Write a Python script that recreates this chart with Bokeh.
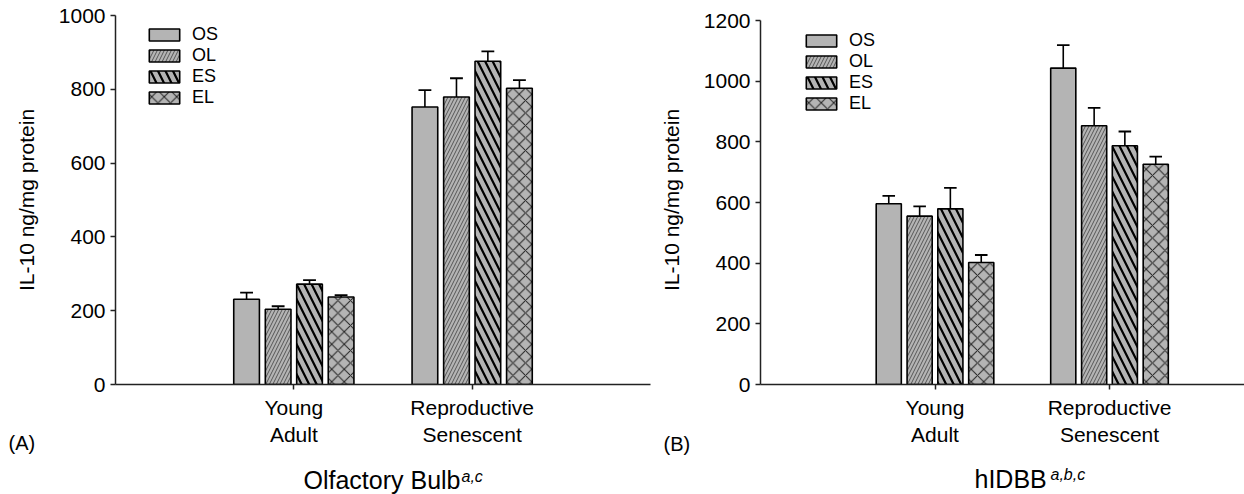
from bokeh.plotting import figure
from bokeh.models import Range1d, FixedTicker, Legend, LegendItem, ColumnDataSource, Title
from bokeh.layouts import row
from bokeh.embed import file_html
from bokeh.resources import INLINE

# ---------------- data ----------------
series = ["OS", "OL", "ES", "EL"]
group_positions = [1, 2]
group_labels = ["Young\nAdult", "Reproductive\nSenescent"]

# Panel A: Olfactory Bulb (IL-10 ng/mg protein)
ob_OS = [231, 752]
ob_OL = [204, 779]
ob_ES = [272, 876]
ob_EL = [237, 803]
ob_OS_err = [18, 46]
ob_OL_err = [8, 51]
ob_ES_err = [11, 27]
ob_EL_err = [5, 22]

# Panel B: hIDBB (IL-10 ng/mg protein)
hd_OS = [596, 1043]
hd_OL = [555, 853]
hd_ES = [579, 787]
hd_EL = [402, 726]
hd_OS_err = [26, 76]
hd_OL_err = [32, 59]
hd_ES_err = [69, 47]
hd_EL_err = [25, 25]

y_ticks_A = [0, 200, 400, 600, 800, 1000]
y_ticks_B = [0, 200, 400, 600, 800, 1000, 1200]

# ---------------- style ----------------
FONT = "Liberation Sans"
BAR_FILL = "#b4b4b4"
offsets = [-0.265, -0.088, 0.088, 0.265]
bar_width = 0.144
hatch = {
    "OS": dict(hatch_pattern=" "),
    "OL": dict(hatch_pattern="/", hatch_scale=7, hatch_weight=1, hatch_color="#555555"),
    "ES": dict(hatch_pattern="\\", hatch_scale=15, hatch_weight=2.2, hatch_color="#000000"),
    "EL": dict(hatch_pattern="x", hatch_scale=12.5, hatch_weight=1, hatch_color="#222222"),
}


def add_title(p, text, size, style, valign, offset, standoff):
    p.add_layout(Title(text=text, align="left", vertical_align=valign, offset=offset, standoff=standoff,
                       text_font=FONT, text_font_size=size, text_font_style=style,
                       text_color="black"), "below")


def make_panel(means, errs, yrange, ybounds, yticks, xmax, width, b_left, b_right,
               legend_loc, texts):
    p = figure(width=width, height=494, output_backend="svg", toolbar_location=None,
               x_range=Range1d(0, xmax), y_range=Range1d(*yrange),
               min_border_left=b_left, min_border_right=b_right,
               min_border_top=15, min_border_bottom=110)
    p.outline_line_color = None
    p.grid.visible = False
    p.background_fill_color = "white"
    p.border_fill_color = "white"

    items = []
    for s, m, e in zip(series, means, errs):
        off = offsets[series.index(s)]
        xs = [g + off for g in group_positions]
        tops = [mi + ei for mi, ei in zip(m, e)]
        src = ColumnDataSource(dict(x=xs, top=m, err_top=tops,
                                    cap_l=[x - 0.036 for x in xs], cap_r=[x + 0.036 for x in xs]))
        p.segment(x0="x", y0="top", x1="x", y1="err_top", source=src, line_color="black", line_width=1.6)
        p.segment(x0="cap_l", y0="err_top", x1="cap_r", y1="err_top", source=src,
                  line_color="black", line_width=1.8)
        r = p.vbar(x="x", top="top", width=bar_width, bottom=0, source=src,
                   fill_color=BAR_FILL, line_color="black", line_width=1.6, **hatch[s])
        items.append(LegendItem(label=s, renderers=[r]))

    leg = Legend(items=items, location=legend_loc, glyph_width=38, glyph_height=15,
                 label_text_font=FONT, label_text_font_size="18px", label_standoff=9,
                 label_text_color="black",
                 spacing=0, padding=0, margin=0, border_line_color=None,
                 background_fill_alpha=0, label_height=20)
    p.add_layout(leg)

    xa = p.xaxis[0]
    xa.ticker = FixedTicker(ticks=group_positions)
    xa.major_label_overrides = {g: l for g, l in zip(group_positions, group_labels)}
    xa.minor_tick_line_color = None
    xa.major_tick_in = 0
    xa.major_tick_out = 5
    xa.major_label_standoff = 6
    xa.major_label_text_font = FONT
    xa.major_label_text_font_size = "21px"
    xa.major_label_text_color = "black"
    xa.axis_line_color = "#222222"
    xa.axis_line_width = 1.5
    xa.major_tick_line_color = "#222222"
    xa.major_tick_line_width = 1.5

    ya = p.yaxis[0]
    ya.bounds = ybounds
    ya.ticker = FixedTicker(ticks=yticks)
    ya.minor_tick_line_color = None
    ya.major_tick_in = 0
    ya.major_tick_out = 5
    ya.major_label_standoff = 5
    ya.major_label_text_font = FONT
    ya.major_label_text_font_size = "21px"
    ya.major_label_text_color = "black"
    ya.axis_line_color = "#222222"
    ya.axis_line_width = 1.5
    ya.major_tick_line_color = "#222222"
    ya.major_tick_line_width = 1.5
    ya.axis_label = "IL-10 ng/mg protein"
    ya.axis_label_text_font = FONT
    ya.axis_label_text_font_size = "21px"
    ya.axis_label_text_font_style = "normal"
    ya.axis_label_text_color = "black"
    ya.axis_label_standoff = 18

    for t in texts:
        add_title(p, *t)
    return p


# common frame: top 15 px, bottom 384 px
pA = make_panel([ob_OS, ob_OL, ob_ES, ob_EL], [ob_OS_err, ob_OL_err, ob_ES_err, ob_EL_err],
                (0, 1000), (0, 1000), y_ticks_A, 3.0, 652, 115, 2, (30, 276),
                [("(A)", "20px", "normal", "top", -107, -36),
                 ("Olfactory Bulb", "25px", "normal", "bottom", 188, -88.6),
                 ("a,c", "16px", "italic", "bottom", 346, -71.8)])
kB = 364.0 / 1200
pB = make_panel([hd_OS, hd_OL, hd_ES, hd_EL], [hd_OS_err, hd_OL_err, hd_ES_err, hd_EL_err],
                (0, 1200 + 5 / kB), (0, 1200), y_ticks_B, 484 / 174.5, 592, 108, 0, (42, 270),
                [("(B)", "20px", "normal", "top", -97, -34),
                 ("hIDBB", "25px", "normal", "bottom", 214, -87.6),
                 ("a,b,c", "16px", "italic", "bottom", 290, -67.8)])

layout = row(pA, pB)
open("out.html", "w").write(file_html(layout, INLINE))
